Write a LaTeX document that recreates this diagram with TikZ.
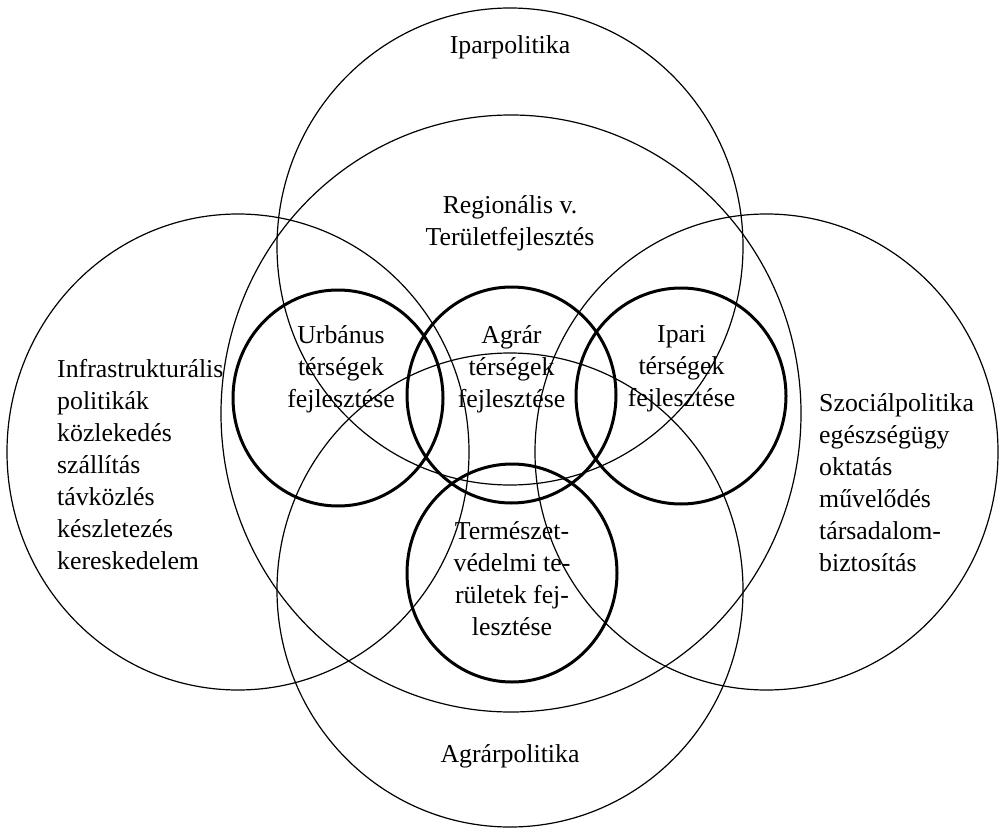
\documentclass[tikz,border=0pt]{standalone}
\usepackage{fontspec}
\setmainfont{Liberation Serif}
\begin{document}
\begin{tikzpicture}[x=1pt,y=-1pt,
  thinline/.style={line width=1.2pt},
  thickline/.style={line width=3pt},
  lbl/.style={font=\fontsize{25.8}{32}\selectfont, inner sep=0pt, align=center},
  lbll/.style={font=\fontsize{25.8}{32}\selectfont, inner sep=0pt, align=left, anchor=west}]
\useasboundingbox (0,0) rectangle (1000,829);
% big thin ellipses
\draw[thinline] (510,246.5) ellipse [x radius=233pt, y radius=238.5pt];
\draw[thinline] (511,413.5) ellipse [x radius=290pt, y radius=298.5pt];
\draw[thinline] (238,452) ellipse [x radius=231pt, y radius=238pt];
\draw[thinline] (766.5,452) ellipse [x radius=231.5pt, y radius=238pt];
\draw[thinline] (510,590) ellipse [x radius=233pt, y radius=237pt];
% thick circles
\draw[thickline] (338,398) ellipse [x radius=105pt, y radius=108pt];
\draw[thickline] (511.5,395) ellipse [x radius=104.5pt, y radius=108pt];
\draw[thickline] (681,396) ellipse [x radius=105pt, y radius=108pt];
\draw[thickline] (512,573) ellipse [x radius=105pt, y radius=109pt];
% labels
\node[lbl] (ipar) at (510,47) {Iparpolitika};
\node[lbl] (reg) at (510,223) {Regionális v.\\Területfejlesztés};
\node[lbl] (urb) at (341,369) {Urbánus\\térségek\\fejlesztése};
\node[lbl] (agr) at (511.5,369) {Agrár\\térségek\\fejlesztése};
\node[lbl] (ipt) at (681.5,369) {Ipari\\térségek\\fejlesztése};
\node[lbl] (term) at (512,579) {Természet-\\védelmi te-\\rületek fej-\\lesztése};
\node[lbl] (agpol) at (510,756) {Agrárpolitika};
\node[lbll] (infra) at (57,465) {Infrastrukturális\\politikák\\közlekedés\\szállítás\\távközlés\\készletezés\\kereskedelem};
\node[lbll] (szoc) at (819,482.5) {Szociálpolitika\\egészségügy\\oktatás\\művelődés\\társadalom-\\biztosítás};
\end{tikzpicture}
\end{document}
